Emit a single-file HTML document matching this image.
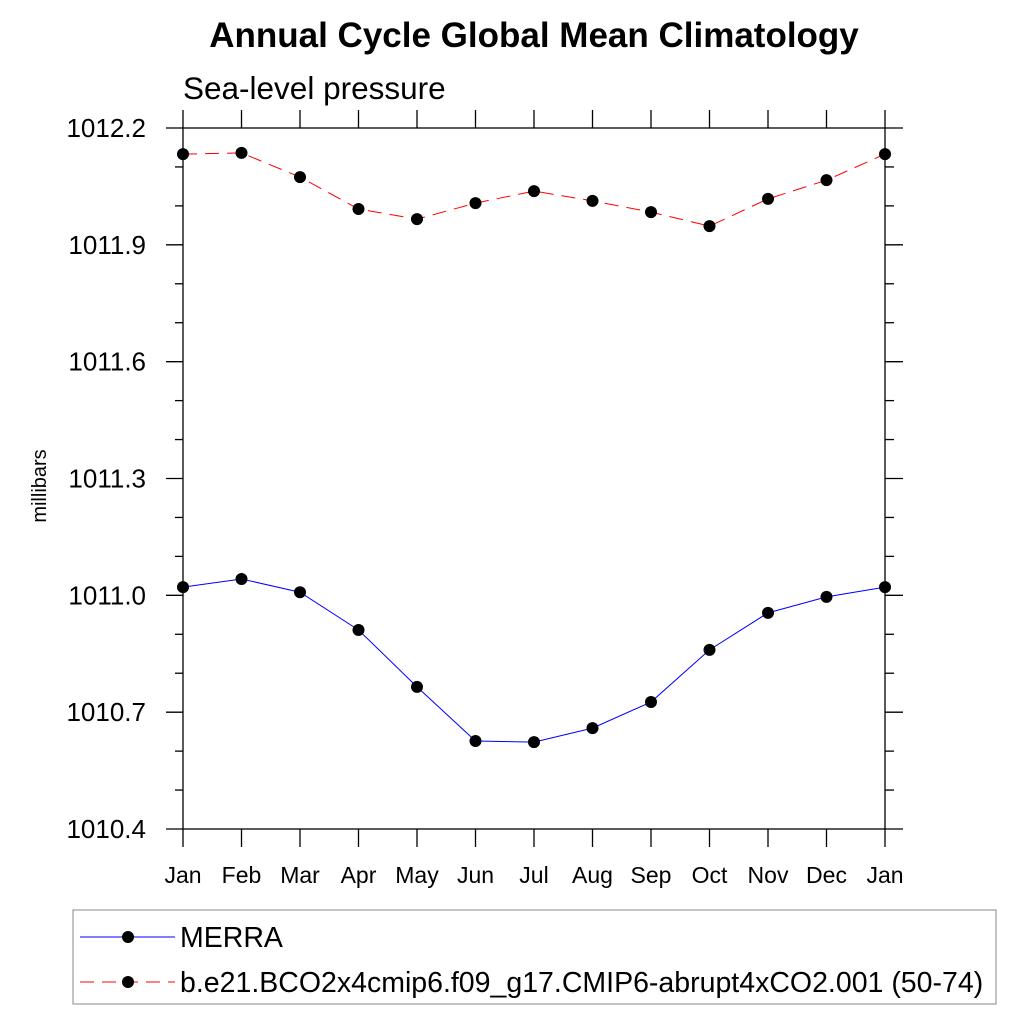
<!DOCTYPE html>
<html><head><meta charset="utf-8"><style>
body{margin:0;background:#fff;}
svg text{font-family:"Liberation Sans",sans-serif;}
</style></head><body>
<svg width="1024" height="1024" viewBox="0 0 1024 1024">
<text x="534" y="47" text-anchor="middle" font-size="35" font-weight="bold">Annual Cycle Global Mean Climatology</text>
<text x="183" y="99" font-size="31.5">Sea-level pressure</text>
<text transform="translate(46,486) rotate(-90)" text-anchor="middle" font-size="20">millibars</text>
<g id="axes" stroke="#000" stroke-width="1.3" fill="none"></g>
<g id="labels" font-size="23"></g>
<g id="series"></g>
<rect x="73" y="910" width="923" height="94" fill="none" stroke="#888" stroke-width="1"/>
<g>
<line x1="80" y1="937" x2="175" y2="937" stroke="#00f" stroke-width="1"/>
<circle cx="128" cy="937" r="6" fill="#000"/>
<text x="180" y="947" font-size="28.5">MERRA</text></g>
<g>
<line x1="80" y1="982" x2="175" y2="982" stroke="#f00" stroke-width="1" stroke-dasharray="14,8"/>
<circle cx="128" cy="982" r="6" fill="#000"/>
<text x="180" y="992" font-size="28.5">b.e21.BCO2x4cmip6.f09_g17.CMIP6-abrupt4xCO2.001 (50-74)</text></g>
</svg>
<script>
const months=["Jan","Feb","Mar","Apr","May","Jun","Jul","Aug","Sep","Oct","Nov","Dec","Jan"];
const merra=[1011.021,1011.042,1011.008,1010.911,1010.765,1010.626,1010.623,1010.659,1010.726,1010.860,1010.955,1010.996,1011.021];
const cesm=[1012.133,1012.136,1012.074,1011.992,1011.966,1012.007,1012.038,1012.013,1011.984,1011.948,1012.018,1012.066,1012.133];
const yTicks=["1010.4","1010.7","1011.0","1011.3","1011.6","1011.9","1012.2"];
const X0=183,X1=885,Y0=829,Y1=128,ymin=1010.4,ymax=1012.2;
const xs=i=>X0+(X1-X0)*i/(months.length-1);
const ys=v=>Y0-(v-ymin)/(ymax-ymin)*(Y0-Y1);
const NS="http://www.w3.org/2000/svg";
function mk(t,a,p){const e=document.createElementNS(NS,t);for(const k in a)e.setAttribute(k,a[k]);p.appendChild(e);return e;}
const ax=document.getElementById('axes'),lb=document.getElementById('labels'),sr=document.getElementById('series');
let f=mk('rect',{x:X0,y:Y1,width:X1-X0,height:Y0-Y1},ax);


for(let v=0;v<=18;v++){const y=ys(ymin+v*0.1);const maj=v%3==0;
 mk('line',{x1:X0-(maj?17:8),y1:y,x2:X0,y2:y},ax);
 mk('line',{x1:X1,y1:y,x2:X1+(maj?18:9),y2:y},ax);}
yTicks.forEach(t=>{const e=mk('text',{x:146,y:ys(+t)+9,'text-anchor':'end','font-size':26},lb);e.textContent=t;

});
months.forEach((m,i)=>{const x=xs(i);
 mk('line',{x1:x,y1:Y1-18,x2:x,y2:Y1},ax);mk('line',{x1:x,y1:Y0,x2:x,y2:Y0+18},ax);
 const e=mk('text',{x:x,y:883,'text-anchor':'middle'},lb);e.textContent=m;
 
 });
function draw(d,col,dash,name){
 const p=mk('polyline',{points:d.map((v,i)=>xs(i)+','+ys(v)).join(' '),fill:'none',stroke:col,'stroke-width':1,'stroke-dasharray':dash},sr);
 
 
 d.forEach((v,i)=>{const c=mk('circle',{cx:xs(i),cy:ys(v),r:6,fill:'#000'},sr);
 
 });}
draw(merra,'#00f','none','merra');
draw(cesm,'#f00','14,8','cesm');
</script>
</body></html>
